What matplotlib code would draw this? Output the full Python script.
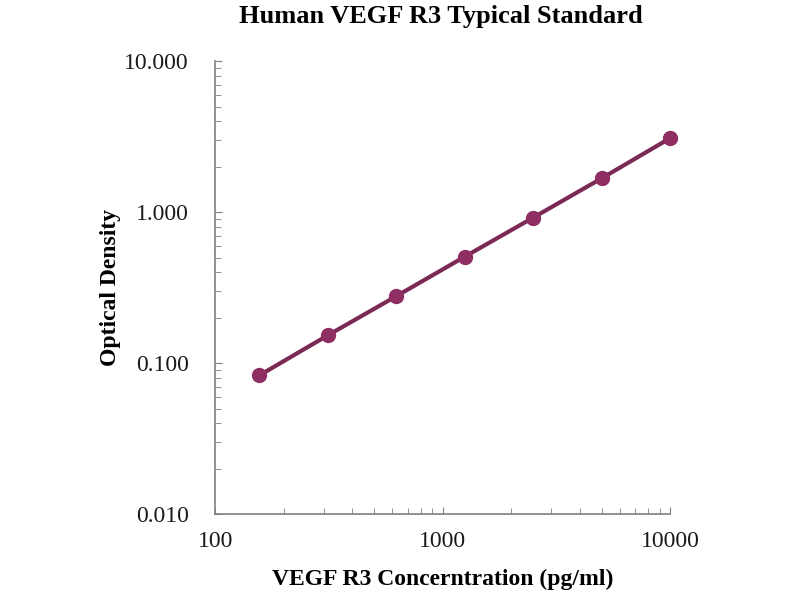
import matplotlib
matplotlib.use("Agg")
import matplotlib.pyplot as plt
from matplotlib.ticker import FixedLocator, FixedFormatter, LogLocator, NullFormatter

concentration = [156.25, 312.5, 625, 1250, 2500, 5000, 10000]
optical_density = [0.083, 0.153, 0.278, 0.508, 0.922, 1.68, 3.10]
x_ticks = [100, 1000, 10000]
x_tick_labels = ["100", "1000", "10000"]
y_ticks = [0.01, 0.1, 1, 10]
y_tick_labels = ["0.010", "0.100", "1.000", "10.000"]

plt.rcParams['font.family'] = ['Liberation Serif', 'DejaVu Serif']

fig = plt.figure(figsize=(8, 6), dpi=100)
ax = fig.add_axes([0.269, 0.143, 0.569, 0.755])

ax.plot(concentration, optical_density, color='#7B2A56', linewidth=3.0,
        marker='o', markersize=10, markerfacecolor='#8E2E63',
        markeredgecolor='#8E2E63', zorder=3, clip_on=False)

ax.set_xscale('log')
ax.set_yscale('log')
ax.set_xlim(100, 10000)
ax.set_ylim(0.01, 10)

ax.xaxis.set_major_locator(FixedLocator(x_ticks))
ax.xaxis.set_major_formatter(FixedFormatter(x_tick_labels))
ax.yaxis.set_major_locator(FixedLocator(y_ticks))
ax.yaxis.set_major_formatter(FixedFormatter(y_tick_labels))
ax.xaxis.set_minor_locator(LogLocator(base=10, subs=range(2, 10)))
ax.yaxis.set_minor_locator(LogLocator(base=10, subs=range(2, 10)))
ax.xaxis.set_minor_formatter(NullFormatter())
ax.yaxis.set_minor_formatter(NullFormatter())

for s in ['top', 'right']:
    ax.spines[s].set_visible(False)
for s in ['left', 'bottom']:
    ax.spines[s].set_color('#808080')
    ax.spines[s].set_linewidth(1.2)

ax.tick_params(axis='both', which='both', direction='in', colors='#808080')
ax.tick_params(axis='both', which='major', length=5, labelsize=17,
               labelcolor='#1a1a1a', pad=12)
ax.tick_params(axis='both', which='minor', length=4)
ax.tick_params(axis='y', which='major', pad=19)

ax.set_xlabel('VEGF R3 Concerntration (pg/ml)', fontsize=17, fontweight='bold', labelpad=12)
ax.set_ylabel('Optical Density', fontsize=17, fontweight='bold', labelpad=2)
fig.text(0.551, 0.972, 'Human VEGF R3 Typical Standard', ha='center', va='center',
         fontsize=19, fontweight='bold')

fig.savefig('out.png', dpi=100)
